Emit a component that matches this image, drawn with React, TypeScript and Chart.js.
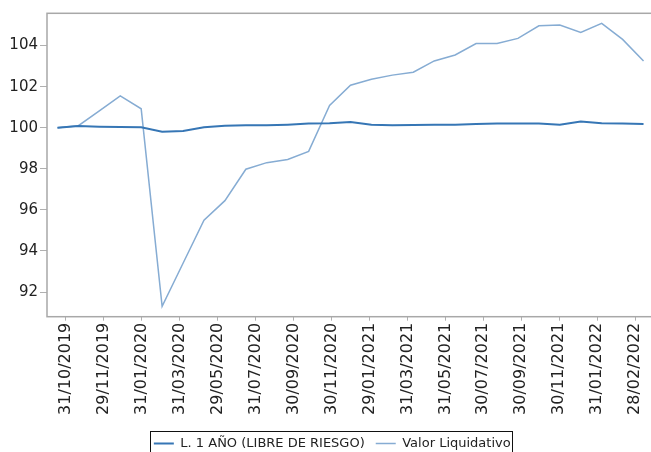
import { useEffect, useRef } from 'react';
import { Chart, registerables } from 'chart.js';

Chart.register(...registerables);

// Month-end dates (one point per month)
const dates = [
  '31/10/2019', '29/11/2019', '31/12/2019', '31/01/2020', '28/02/2020', '31/03/2020',
  '30/04/2020', '29/05/2020', '30/06/2020', '31/07/2020', '31/08/2020', '30/09/2020',
  '30/10/2020', '30/11/2020', '31/12/2020', '29/01/2021', '26/02/2021', '31/03/2021',
  '30/04/2021', '31/05/2021', '30/06/2021', '30/07/2021', '31/08/2021', '30/09/2021',
  '29/10/2021', '30/11/2021', '31/12/2021', '31/01/2022', '28/02/2022',
];

// Labels shown on the axis
const tickLabels = [
  '31/10/2019', '29/11/2019', '31/01/2020', '31/03/2020', '29/05/2020', '31/07/2020',
  '30/09/2020', '30/11/2020', '29/01/2021', '31/03/2021', '31/05/2021', '30/07/2021',
  '30/09/2021', '30/11/2021', '31/01/2022', '28/02/2022',
];

const riskFree = [
  100.0, 100.08, 100.05, 100.03, 100.02, 99.8, 99.84, 100.02, 100.1, 100.12,
  100.12, 100.15, 100.2, 100.22, 100.28, 100.15, 100.12, 100.13, 100.14, 100.15,
  100.18, 100.2, 100.2, 100.2, 100.15, 100.3, 100.22, 100.2, 100.18,
];

const navValues = [
  100.0, 100.1, 100.82, 101.55, 100.92, 91.3, 93.4, 95.5, 96.45, 97.98,
  98.3, 98.45, 98.85, 101.08, 102.07, 102.36, 102.56, 102.7, 103.25, 103.54,
  104.1, 104.1, 104.35, 104.96, 105.0, 104.64, 105.08, 104.3, 103.25,
];

const seriesNames = ['L. 1 AÑO (LIBRE DE RIESGO)', 'Valor Liquidativo'];

const FONT = 'DejaVu Sans';

const framePlugin = {
  id: 'frame',
  beforeDatasetsDraw(chart: any) {
    const { ctx, chartArea } = chart;
    const { left, top, right, bottom } = chartArea;
    ctx.save();
    ctx.strokeStyle = '#a8a8a8';
    ctx.lineWidth = 1.5;
    ctx.strokeRect(left, top, right - left, bottom - top);
    ctx.restore();
  },
};

const legendBoxPlugin = {
  id: 'legendBox',
  afterDraw(chart: any) {
    const boxes = chart.legend?.legendHitBoxes;
    if (!boxes || !boxes.length) return;
    const { ctx } = chart;
    const left = Math.min(...boxes.map((b: any) => b.left)) - 3.5;
    const right = Math.max(...boxes.map((b: any) => b.left + b.width)) + 2;
    const top = boxes[0].top - 6;
    const bottom = boxes[0].top + boxes[0].height + 6;
    ctx.save();
    ctx.strokeStyle = '#111';
    ctx.lineWidth = 1;
    ctx.strokeRect(Math.round(left) + 0.5, Math.round(top) + 0.5, Math.round(right - left), Math.round(bottom - top));
    ctx.restore();
  },
};

export default function App() {
  const ref = useRef<HTMLCanvasElement>(null);

  useEffect(() => {
    if (!ref.current) return;
    const chart = new Chart(ref.current, {
      type: 'line',
      data: {
        labels: dates,
        datasets: [
          {
            label: seriesNames[0],
            data: riskFree,
            borderColor: '#3676b5',
            backgroundColor: '#3676b5',
            borderWidth: 2,
            pointRadius: 0,
            tension: 0,
            fill: false,
          },
          {
            label: seriesNames[1],
            data: navValues,
            borderColor: '#86acd3',
            backgroundColor: '#86acd3',
            borderWidth: 1.5,
            pointRadius: 0,
            tension: 0,
            fill: false,
          },
        ],
      },
      options: {
        animation: false,
        responsive: false,
        layout: { padding: { left: 10.5, top: 13.3, right: 0, bottom: 0 } },
        plugins: {
          legend: {
            position: 'bottom',
            labels: {
              usePointStyle: true,
              pointStyle: 'line',
              pointStyleWidth: 20,
              padding: 11,
              color: '#222',
              font: { family: FONT, size: 13 },
            },
          },
          tooltip: { enabled: false },
          title: { display: false },
        },
        scales: {
          x: { type: 'category', display: false, offset: true },
          x2: {
            type: 'category',
            labels: tickLabels,
            position: 'bottom',
            offset: true,
            grid: { offset: false, drawOnChartArea: false, drawTicks: true, tickLength: 4, color: '#b0b0b0' },
            border: { display: false },
            ticks: {
              autoSkip: false,
              maxRotation: 90,
              minRotation: 90,
              padding: 2,
              color: '#222',
              font: { family: FONT, size: 16 },
            },
            afterFit(s: any) {
              s.height = 109.3;
              s.paddingLeft = 0;
              s.paddingRight = 0;
            },
          },
          y: {
            min: 90.8,
            max: 105.57,
            grid: { drawOnChartArea: false, drawTicks: true, tickLength: 7, color: '#b0b0b0' },
            border: { display: false },
            ticks: {
              stepSize: 2,
              includeBounds: false,
              padding: 2,
              color: '#222',
              font: { family: FONT, size: 15 },
            },
            afterFit(s: any) {
              s.width = 36.5;
              s.paddingTop = 0;
              s.paddingBottom = 0;
            },
          },
        },
      } as any,
      plugins: [framePlugin, legendBoxPlugin],
    });
    return () => chart.destroy();
  }, []);

  return (
    <div style={{ position: 'absolute', left: 0, top: 0, width: 651, height: 452, overflow: 'hidden', background: '#fff' }}>
      <canvas ref={ref} width={654} height={460} style={{ display: 'block', width: 654, height: 460 }} />
    </div>
  );
}
